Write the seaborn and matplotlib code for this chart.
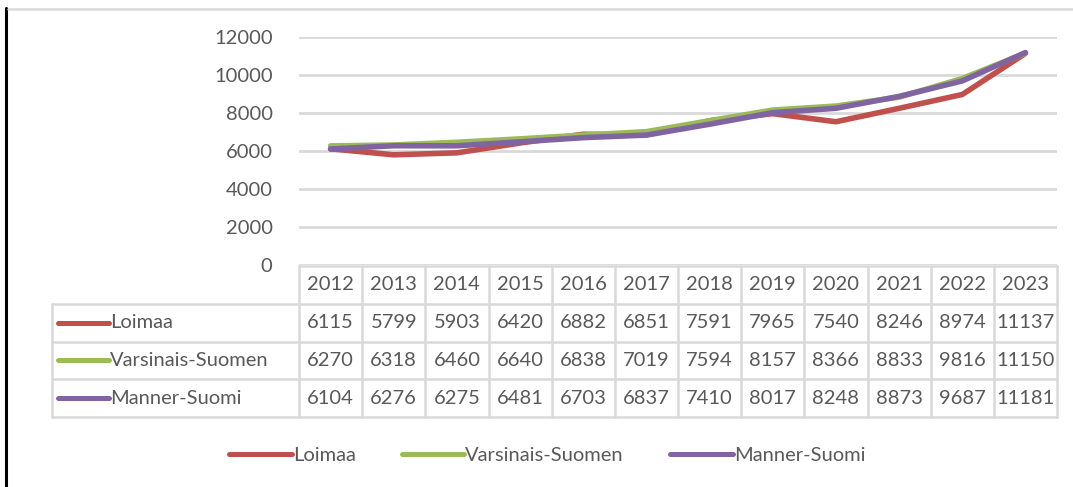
import pandas as pd
import numpy as np
import seaborn as sns
import matplotlib.pyplot as plt
from matplotlib.lines import Line2D

years = [2012, 2013, 2014, 2015, 2016, 2017, 2018, 2019, 2020, 2021, 2022, 2023]
series_names = ["Loimaa", "Varsinais-Suomen", "Manner-Suomi"]
loimaa = [6115, 5799, 5903, 6420, 6882, 6851, 7591, 7965, 7540, 8246, 8974, 11137]
varsinais = [6270, 6318, 6460, 6640, 6838, 7019, 7594, 8157, 8366, 8833, 9816, 11150]
manner = [6104, 6276, 6275, 6481, 6703, 6837, 7410, 8017, 8248, 8873, 9687, 11181]
colors = ["#c0504d", "#9bbb59", "#8064a2"]

values = [loimaa, varsinais, manner]
df = pd.DataFrame({
    "pos": np.tile(np.arange(len(years)), 3),
    "value": np.concatenate(values),
    "series": np.repeat(series_names, len(years)),
})

sns.set_theme(style="white")
plt.rcParams["font.family"] = ["Lato", "DejaVu Sans"]
text_color = "#595959"
grid_color = "#d9d9d9"
fs = 14.5

fig = plt.figure(figsize=(10.73, 4.87), dpi=100)

# main line chart
ax = fig.add_axes([299 / 1073, 1 - 265 / 487, 758 / 1073, 228 / 487])
sns.lineplot(data=df, x="pos", y="value", hue="series", palette=colors,
             linewidth=4, ax=ax, legend=False, solid_capstyle="round")
ax.set_xlim(-0.5, len(years) - 0.5)
ax.set_ylim(0, 12000)
ax.set_yticks(range(0, 12001, 2000))
ax.set_yticklabels([str(v) for v in range(0, 12001, 2000)], color=text_color, fontsize=fs)
ax.set_xticks([])
ax.set_xlabel("")
ax.set_ylabel("")
ax.tick_params(axis="y", length=0, pad=19)
ax.grid(axis="y", color=grid_color, linewidth=2)
ax.set_axisbelow(True)
for s in ax.spines.values():
    s.set_visible(False)

# data table below the chart
col_w = 758 / 12
label_cols = 247 / col_w
tx = fig.add_axes([52 / 1073, 1 - 417 / 487, 1005 / 1073, 151 / 487])
tx.set_xlim(-0.5 - label_cols, len(years) - 0.5)
tx.set_ylim(4, 0)
tx.axis("off")
lw = 1.8
left = -0.5 - label_cols
right = len(years) - 0.5
# horizontal lines
tx.plot([-0.5, right], [0, 0], color=grid_color, lw=lw, clip_on=False)
for r in range(1, 5):
    tx.plot([left, right], [r, r], color=grid_color, lw=lw, clip_on=False)
# vertical lines
tx.plot([left, left], [1, 4], color=grid_color, lw=lw, clip_on=False)
for c in range(len(years) + 1):
    tx.plot([c - 0.5, c - 0.5], [0, 4], color=grid_color, lw=lw, clip_on=False)

for i, y in enumerate(years):
    tx.text(i, 0.5, str(y), ha="center", va="center", color=text_color, fontsize=fs)
for r, (name, vals, col) in enumerate(zip(series_names, values, colors)):
    row = r + 1.5
    tx.plot([left + 0.1, left + 0.9], [row, row], color=col, lw=3.6,
            solid_capstyle="round", clip_on=False)
    tx.text(left + 0.92, row, name, ha="left", va="center", color=text_color, fontsize=fs)
    for i, v in enumerate(vals):
        tx.text(i, row, str(v), ha="center", va="center", color=text_color, fontsize=fs)

# legend at the bottom
handles = [Line2D([0], [0], color=c, lw=3.6, solid_capstyle="round") for c in colors]
fig.legend(handles, series_names, loc="center", bbox_to_anchor=(0.51, 1 - 455 / 487),
           ncol=3, frameon=False, fontsize=fs, handlelength=3.1, handletextpad=0.05,
           columnspacing=2.3, labelcolor=text_color)

# outer frame lines
fig.add_artist(Line2D([6 / 1073, 6 / 1073], [0, 1 - 8 / 487], color="black", lw=2.2))
fig.add_artist(Line2D([8 / 1073, 1], [1 - 9 / 487, 1 - 9 / 487], color=grid_color, lw=1.8))

fig.savefig("out.png", dpi=100, facecolor="white")
